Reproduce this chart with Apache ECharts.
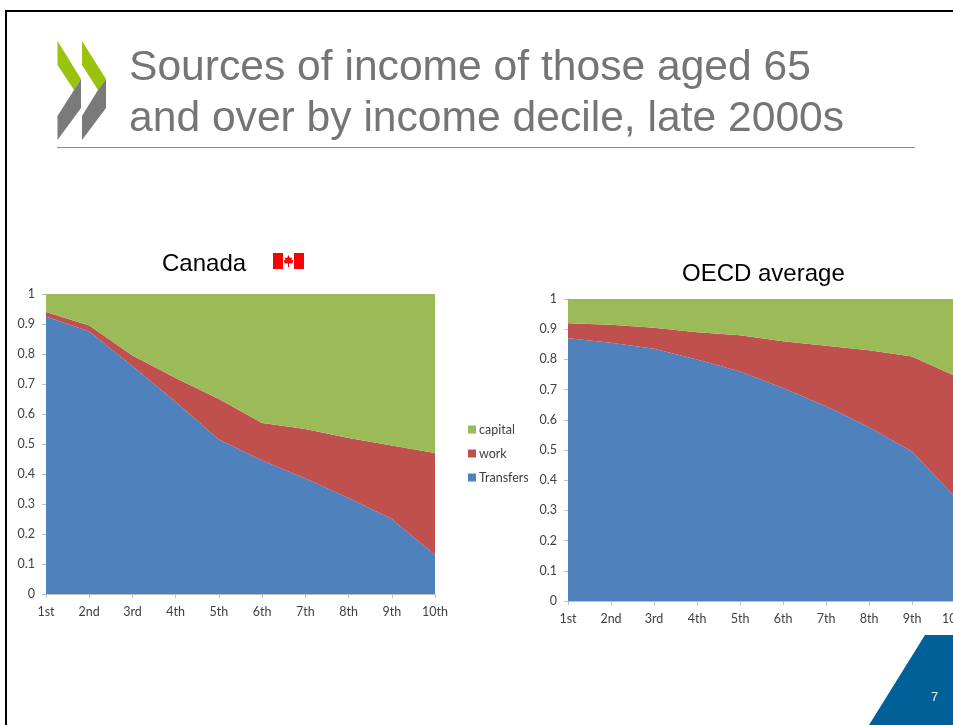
<!DOCTYPE html>
<html><head><meta charset="utf-8">
<style>html,body{margin:0;padding:0;background:#fff;overflow:hidden}#c{width:953px;height:725px}</style>
<script src="https://cdn.jsdelivr.net/npm/echarts@6/dist/echarts.min.js"></script>
</head><body><div id="c"></div>
<script>
const deciles = ['1st','2nd','3rd','4th','5th','6th','7th','8th','9th','10th'];
const canadaTransfers = [0.925,0.875,0.76,0.64,0.515,0.445,0.385,0.32,0.25,0.13];
const canadaWork = [0.015,0.02,0.035,0.08,0.135,0.125,0.165,0.2,0.245,0.34];
const canadaCapital = [0.06,0.105,0.205,0.28,0.35,0.43,0.45,0.48,0.505,0.53];
const oecdTransfers = [0.87,0.855,0.835,0.8,0.76,0.705,0.645,0.575,0.495,0.345];
const oecdWork = [0.05,0.06,0.07,0.09,0.12,0.155,0.2,0.255,0.315,0.4];
const oecdCapital = [0.08,0.085,0.095,0.11,0.12,0.14,0.155,0.17,0.19,0.255];
const yTicks = 0.1;
const BLUE='#4F81BD', RED='#C0504D', GREEN='#9BBB59', AX='#BFBFBF', LBL='#404040', FONT='Lato, "Noto Sans", sans-serif';

function xAxis(i){return {type:'category',gridIndex:i,data:deciles,boundaryGap:false,
  axisLine:{lineStyle:{color:AX}},axisTick:{show:true,alignWithLabel:true,length:4,lineStyle:{color:AX}},
  axisLabel:{color:LBL,fontFamily:FONT,fontSize:12.5,margin:11,interval:0,hideOverlap:false,showMinLabel:true,showMaxLabel:true},splitLine:{show:false}};}
function yAxis(i){return {type:'value',gridIndex:i,min:0,max:1,interval:yTicks,
  axisLine:{show:true,lineStyle:{color:AX}},axisTick:{show:true,length:4,lineStyle:{color:AX}},
  axisLabel:{color:LBL,fontFamily:FONT,fontSize:12.5,margin:11,padding:[1,0,0,0]},splitLine:{show:false}};}
function area(name,data,color,i){return {name,type:'line',xAxisIndex:i,yAxisIndex:i,stack:'s'+i,data,symbol:'none',
  lineStyle:{width:0},itemStyle:{color},areaStyle:{color,opacity:1},silent:true,animation:false};}
function poly(points,fill){return {type:'polygon',shape:{points},style:{fill},silent:true};}
function txt(x,y,text,fontSize,fill,family){return {type:'text',x,y,style:{text,fontSize,fill,fontFamily:family||'"Liberation Sans", Arial, sans-serif',verticalAlign:'middle',align:'left'},silent:true};}

const option = {
  animation:false,
  backgroundColor:'#fff',
  grid:[{left:46,top:294,width:389,height:300,outerBoundsMode:'none'},{left:568,top:299,width:387,height:302,outerBoundsMode:'none'}],
  xAxis:[xAxis(0),xAxis(1)],
  yAxis:[yAxis(0),yAxis(1)],
  legend:{orient:'vertical',left:468,top:423,itemWidth:8,itemHeight:8,itemGap:11,icon:'rect',
    data:['capital','work','Transfers'],selectedMode:false,
    textStyle:{color:LBL,fontFamily:FONT,fontSize:12.5,padding:[0,0,0,-2]},padding:0},
  series:[
    area('Transfers',canadaTransfers,BLUE,0),area('work',canadaWork,RED,0),area('capital',canadaCapital,GREEN,0),
    area('Transfers',oecdTransfers,BLUE,1),area('work',oecdWork,RED,1),area('capital',oecdCapital,GREEN,1)
  ],
  graphic:[
    {type:'rect',shape:{x:6,y:11,width:960,height:730},style:{fill:'none',stroke:'#000',lineWidth:2},silent:true},
    poly([[57.5,41],[81,79],[74,90],[57.5,65]],'#9BC20E'),
    poly([[81,79],[81,108],[57.5,140],[57.5,116],[74,90]],'#7A7A7A'),
    poly([[82,41],[106,79],[98,90],[82,65]],'#9BC20E'),
    poly([[106,79],[106,108],[82,140],[82,116],[98,90]],'#7A7A7A'),
    txt(129,68,'Sources of income of those aged 65',42.6,'#757575'),
    txt(129,119,'and over by income decile, late 2000s',42.6,'#757575'),
    {type:'line',shape:{x1:57,y1:147.5,x2:915,y2:147.5},style:{stroke:'#8C8C8C',lineWidth:1},silent:true},
    txt(162,264,'Canada',24,'#000'),
    txt(682,274,'OECD average',24,'#000'),
    {type:'rect',shape:{x:273,y:253,width:10,height:16},style:{fill:'#F00'},silent:true},
    {type:'rect',shape:{x:294,y:253,width:10,height:16},style:{fill:'#F00'},silent:true},
    poly([[288.5,255],[290,258],[292,257.5],[291.5,260.5],[293,260],[293,262],[292,263.5],[289,263.5],[289,267],[288,267],[288,263.5],[285,263.5],[284,262],[284,260],[285.5,260.5],[285,257.5],[287,258]],'#F00'),
    poly([[925,635],[960,635],[960,725],[869,725]],'#006098'),
    txt(931,697,'7',13,'#E8F0F5')
  ]
};
echarts.init(document.getElementById('c'),null,{renderer:'canvas'}).setOption(option);
</script></body></html>
